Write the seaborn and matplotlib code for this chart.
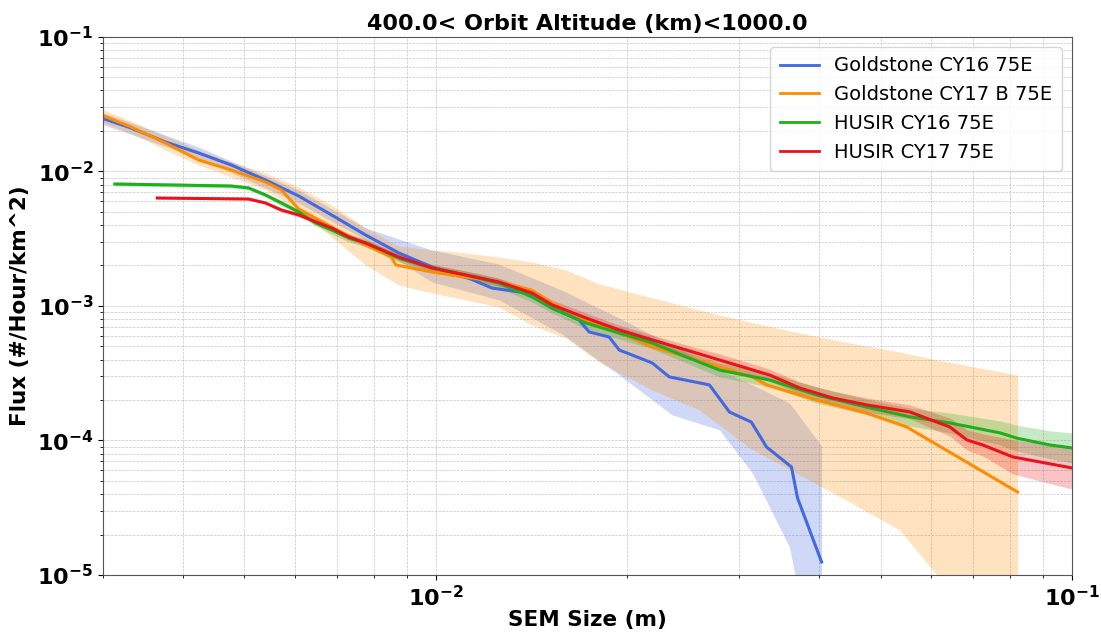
import numpy as np
import pandas as pd
import matplotlib
matplotlib.use("Agg")
import matplotlib.pyplot as plt
import matplotlib.ticker as mticker
import seaborn as sns

# ---------------- data ----------------
series_names = ["Goldstone CY16 75E", "Goldstone CY17 B 75E", "HUSIR CY16 75E", "HUSIR CY17 75E"]
series_colors = ["royalblue", "darkorange", "#1fae1f", "#e8141c"]

# Goldstone CY16 75E
gs16_x = [0.00298, 0.00332, 0.00376, 0.00424, 0.00477, 0.00540, 0.00609, 0.00686, 0.00776, 0.00875,
          0.00986, 0.01127, 0.01225, 0.01386, 0.01523, 0.01680, 0.01742, 0.01873, 0.01942, 0.02189,
          0.02328, 0.02692, 0.02894, 0.03133, 0.03310, 0.03623, 0.03703, 0.04040]
gs16_y = [0.0250, 0.02105, 0.01657, 0.01372, 0.01118, 0.00864, 0.00657, 0.00475, 0.00337, 0.00248,
          0.00195, 0.00161, 0.00136, 0.00125, 0.000966, 0.000787, 0.000641, 0.000588, 0.000471, 0.000377,
          0.000297, 0.000259, 0.000163, 0.000137, 8.95e-5, 6.35e-5, 3.74e-5, 1.25e-5]
gs16_band_x = [0.00298, 0.00424, 0.00609, 0.00776, 0.00986, 0.01256, 0.01579, 0.01942, 0.02353,
               0.02791, 0.03145, 0.03597, 0.04040]
gs16_hi = [0.02769, 0.01520, 0.00729, 0.00380, 0.00261, 0.00205, 0.00131, 0.000814, 0.000513,
           0.000334, 0.000259, 0.000190, 9.10e-5]
gs16_lo = [0.02254, 0.01260, 0.00583, 0.00310, 0.00151, 0.00111, 0.000619, 0.000307, 0.000155,
           0.000120, 5.73e-5, 1.61e-5, 1e-6]

# Goldstone CY17 B 75E
gs17_x = [0.00298, 0.00332, 0.00376, 0.00424, 0.00477, 0.00540, 0.00572, 0.00609, 0.00686, 0.00776,
          0.00852, 0.00865, 0.00986, 0.01115, 0.01256, 0.01416, 0.01523, 0.01723, 0.01942, 0.02189,
          0.02476, 0.02791, 0.03145, 0.03310, 0.03967, 0.04755, 0.05498, 0.0821]
gs17_y = [0.02630, 0.02142, 0.01628, 0.01218, 0.01026, 0.00835, 0.00729, 0.00526, 0.00387, 0.00284,
          0.00231, 0.00202, 0.00179, 0.00164, 0.00151, 0.00131, 0.00105, 0.000787, 0.000630, 0.000496,
          0.000418, 0.000352, 0.000297, 0.000259, 0.000200, 0.000160, 0.000126, 4.14e-5]
gs17_band_x = [0.00298, 0.00332, 0.00376, 0.00424, 0.00477, 0.00540, 0.00609, 0.00686, 0.00776, 0.00875,
               0.00986, 0.01115, 0.01256, 0.01416, 0.01602, 0.01806, 0.02189, 0.02596, 0.03111, 0.03730,
               0.04471, 0.05360, 0.06130, 0.0821]
gs17_hi = [0.02916, 0.02373, 0.01836, 0.01445, 0.01177, 0.00975, 0.00767, 0.00563, 0.00380, 0.00279,
           0.00261, 0.00248, 0.00231, 0.00212, 0.00185, 0.00146, 0.00115, 0.000934, 0.000760, 0.000630,
           0.000531, 0.000455, 0.000397, 0.000307]
gs17_lo = [0.02333, 0.01932, 0.01445, 0.01118, 0.00910, 0.00729, 0.00517, 0.00326, 0.00202, 0.00143,
           0.00125, 0.00111, 0.000983, 0.000722, 0.000578, 0.000383, 0.000237, 0.000169, 8.80e-5, 5.54e-5,
           3.49e-5, 2.16e-5, 1.0e-5, 1e-6]

# HUSIR CY16 75E
h16_x = [0.00313, 0.00477, 0.00508, 0.00540, 0.00572, 0.00609, 0.00647, 0.00686, 0.00730, 0.00776,
         0.00875, 0.00986, 0.01115, 0.01256, 0.01416, 0.01523, 0.01723, 0.01942, 0.02189, 0.02476,
         0.02791, 0.03345, 0.03967, 0.04755, 0.05560, 0.06426, 0.07702, 0.08192, 0.09235, 0.1]
h16_y = [0.00807, 0.00780, 0.00754, 0.00669, 0.00583, 0.00500, 0.00414, 0.00367, 0.00320, 0.00294,
         0.00227, 0.00192, 0.00170, 0.00148, 0.00117, 0.000966, 0.000747, 0.000630, 0.000531, 0.000418,
         0.000334, 0.000282, 0.000218, 0.000177, 0.000150, 0.000135, 0.000114, 0.000104, 9.26e-5, 8.80e-5]
h16_hi = [0.00835, 0.00807, 0.00780, 0.00692, 0.00614, 0.00526, 0.00436, 0.00393, 0.00343, 0.00315,
          0.00244, 0.00205, 0.00182, 0.00161, 0.00127, 0.00105, 0.000829, 0.000698, 0.000588, 0.000463,
          0.000377, 0.000318, 0.000250, 0.000203, 0.000174, 0.000160, 0.000140, 0.000130, 0.000118, 0.000114]
h16_lo = [0.00780, 0.00754, 0.00729, 0.00646, 0.00554, 0.00475, 0.00393, 0.00343, 0.00299, 0.00275,
          0.00212, 0.00179, 0.00159, 0.00136, 0.00107, 0.000887, 0.000675, 0.000568, 0.000479, 0.000377,
          0.000297, 0.000250, 0.000190, 0.000155, 0.000128, 0.000114, 9.26e-5, 8.35e-5, 7.29e-5, 6.80e-5]

# HUSIR CY17 75E
h17_x = [0.00365, 0.00508, 0.00540, 0.00572, 0.00609, 0.00686, 0.00730, 0.00776, 0.00875, 0.00986,
         0.01115, 0.01256, 0.01416, 0.01523, 0.01723, 0.01942, 0.02189, 0.02476, 0.02791, 0.03345,
         0.03730, 0.04203, 0.04755, 0.05560, 0.06426, 0.06834, 0.07240, 0.08074, 0.08904, 0.1]
h17_y = [0.00635, 0.00624, 0.00583, 0.00517, 0.00475, 0.00380, 0.00326, 0.00294, 0.00231, 0.00192,
         0.00170, 0.00151, 0.00125, 0.00102, 0.000814, 0.000663, 0.000559, 0.000471, 0.000397, 0.000307,
         0.000246, 0.000207, 0.000184, 0.000163, 0.000126, 0.000101, 9.26e-5, 7.54e-5, 6.92e-5, 6.25e-5]
h17_hi = [0.00646, 0.00635, 0.00593, 0.00535, 0.00491, 0.00393, 0.00343, 0.00310, 0.00244, 0.00202,
          0.00182, 0.00161, 0.00134, 0.00111, 0.000887, 0.000722, 0.000609, 0.000513, 0.000440, 0.000340,
          0.000272, 0.000233, 0.000207, 0.000184, 0.000147, 0.000120, 0.000112, 0.000101, 9.58e-5, 8.95e-5]
h17_lo = [0.00624, 0.00614, 0.00573, 0.00500, 0.00459, 0.00367, 0.00310, 0.00279, 0.00220, 0.00182,
          0.00159, 0.00141, 0.00117, 0.000934, 0.000747, 0.000609, 0.000513, 0.000432, 0.000358, 0.000277,
          0.000222, 0.000184, 0.000163, 0.000145, 0.000108, 8.50e-5, 7.67e-5, 5.64e-5, 5.00e-5, 4.36e-5]

# ---------------- build tables ----------------
lines_df = pd.concat([
    pd.DataFrame({"size": gs16_x, "flux": gs16_y, "series": series_names[0]}),
    pd.DataFrame({"size": gs17_x, "flux": gs17_y, "series": series_names[1]}),
    pd.DataFrame({"size": h16_x, "flux": h16_y, "series": series_names[2]}),
    pd.DataFrame({"size": h17_x, "flux": h17_y, "series": series_names[3]}),
], ignore_index=True)

bands = [
    (gs16_band_x, gs16_lo, gs16_hi, series_colors[0]),
    (gs17_band_x, gs17_lo, gs17_hi, series_colors[1]),
    (h16_x, h16_lo, h16_hi, series_colors[2]),
    (h17_x, h17_lo, h17_hi, series_colors[3]),
]

# ---------------- plot ----------------
fig = plt.figure(figsize=(11.01, 6.32), dpi=100)
ax = fig.add_axes([0.0936, 0.0902, 0.8801, 0.8513])

ax.set_xscale("log")
ax.set_yscale("log")

for bx, blo, bhi, col in bands:
    ax.fill_between(bx, blo, bhi, color=col, alpha=0.25, linewidth=0)

sns.lineplot(data=lines_df, x="size", y="flux", hue="series", hue_order=series_names,
             palette=dict(zip(series_names, series_colors)), linewidth=2.2,
             estimator=None, sort=False, ax=ax)

ax.set_xlim(0.003, 0.1)
ax.set_ylim(1e-5, 1e-1)

ax.grid(True, which="both", linestyle="--", linewidth=0.5, color="#c4c4c4")
ax.set_axisbelow(True)

ax.xaxis.set_minor_formatter(mticker.NullFormatter())
ax.yaxis.set_minor_formatter(mticker.NullFormatter())
ax.tick_params(axis="both", which="major", labelsize=16)
for lab in ax.get_xticklabels() + ax.get_yticklabels():
    lab.set_fontweight("bold")
    lab.set_fontsize(16)

ax.set_title("400.0< Orbit Altitude (km)<1000.0", fontsize=16, fontweight="bold", pad=5)
ax.set_xlabel("SEM Size (m)", fontsize=15.5, fontweight="bold", labelpad=0)
ax.set_ylabel("Flux (#/Hour/km^2)", fontsize=15.5, fontweight="bold", labelpad=5)

for sp in ax.spines.values():
    sp.set_color("#555555")

leg = ax.legend(loc="upper right", fontsize=14, framealpha=0.8, borderpad=0.5)
for line in leg.get_lines():
    line.set_linewidth(2.0)

fig.savefig("out.png", dpi=100)
